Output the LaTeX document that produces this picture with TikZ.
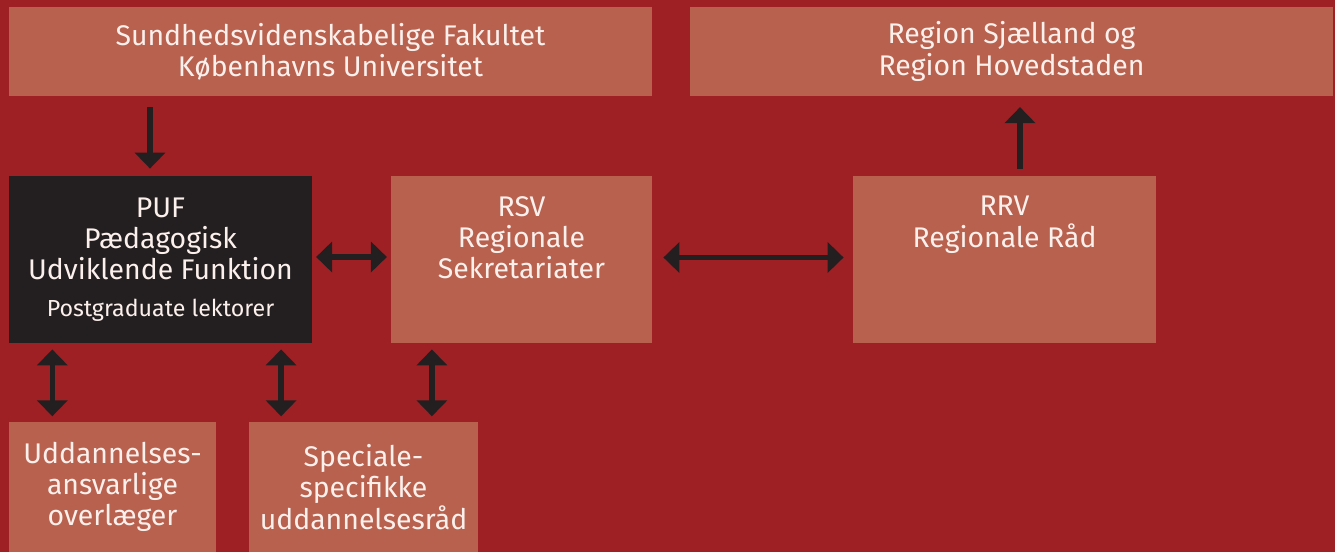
\documentclass[tikz,border=0pt]{standalone}
\usepackage{fontspec}
\setmainfont{Fira Sans}
\usetikzlibrary{arrows.meta}
\definecolor{bgred}{HTML}{9E1F24}
\definecolor{boxc}{HTML}{B8614F}
\definecolor{darkc}{HTML}{231F20}
\definecolor{txtc}{HTML}{FCF0EC}
\begin{document}
\begin{tikzpicture}[x=0.5pt,y=-0.5pt,
  box/.style={fill=boxc, draw=none, inner sep=0pt, text=txtc, align=center,
    font=\fontsize{14.2}{15.6}\selectfont},
  txt/.style={inner sep=0pt, text=txtc, align=center, font=\fontsize{14.2}{15.6}\selectfont},
  tip/.tip={Triangle[width=15pt,length=8pt]},
  arr/.style={draw=darkc, line width=2.75pt, -tip},
  darr/.style={draw=darkc, line width=2.75pt, tip-tip}]
\useasboundingbox (0,0) rectangle (1335,552);
\fill[bgred] (0,0) rectangle (1335,552);
% boxes
\node[box, minimum width=321.5pt, minimum height=44.5pt] (fak) at (330.5,51.5)
  {Sundhedsvidenskabelige Fakultet\\Københavns Universitet};
\node[box, minimum width=321.5pt, minimum height=44.5pt] (reg) at (1011.5,51.5)
  {Region Sjælland og\\Region Hovedstaden};
\node[box, fill=darkc, minimum width=151.5pt, minimum height=83.5pt] (puf) at (160.5,259.5)
  {PUF\\Pædagogisk\\Udviklende Funktion\\[3pt]{\fontsize{11.6}{15.6}\selectfont Postgraduate lektorer}};
\node[box, minimum width=130.5pt, minimum height=83.5pt] (rsv) at (521.5,259.5) {};
\node[txt, anchor=north] (rsvt) at (521.5,196) {RSV\\Regionale\\Sekretariater};
\node[box, minimum width=151.5pt, minimum height=83.5pt] (rrv) at (1004.5,259.5) {};
\node[txt, anchor=north] (rrvt) at (1004.5,196) {RRV\\Regionale Råd};
\node[box, minimum width=103.5pt, minimum height=65pt] (ul) at (112.5,487)
  {Uddannelses-\\ansvarlige\\overlæger};
\node[box, minimum width=114.5pt, minimum height=65pt] (us) at (363.5,487)
  {Speciale-\\specifikke\\uddannelsesråd};
% arrows
\draw[arr, shorten <=5.5pt, shorten >=3.5pt] ([xshift=-5.25pt]puf.north |- fak.south) -- ([xshift=-5.25pt]puf.north);
\draw[arr, shorten <=3.5pt, shorten >=5.35pt] ([xshift=7.75pt]rrv.north) -- ([xshift=7.75pt]rrv.north |- reg.south);
\draw[darr, shorten <=1.85pt, shorten >=1.85pt] ([yshift=1.25pt]puf.east) -- ([yshift=1.25pt]rsv.west);
\draw[darr, shorten <=5.5pt, shorten >=4.5pt] ([yshift=1pt]rsv.east) -- ([yshift=1pt]rrv.west);
\draw[darr, shorten <=3pt, shorten >=2.65pt] ([xshift=21.85pt]puf.south west) -- ([xshift=21.85pt]puf.south west |- ul.north);
\draw[darr, shorten <=3pt, shorten >=2.65pt] ([xshift=-15.65pt]puf.south east) -- ([xshift=-15.65pt]puf.south east |- us.north);
\draw[darr, shorten <=3pt, shorten >=2.65pt] ([xshift=20.65pt]rsv.south west) -- ([xshift=20.65pt]rsv.south west |- us.north);
\end{tikzpicture}
\end{document}
